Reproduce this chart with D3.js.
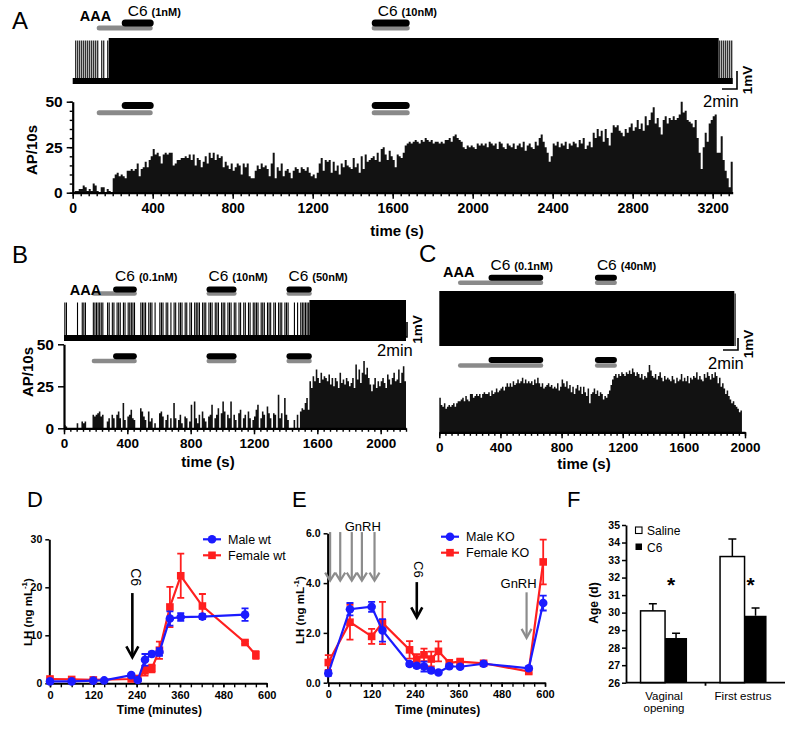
<!DOCTYPE html>
<html><head><meta charset="utf-8">
<script src="https://cdn.jsdelivr.net/npm/d3@7/dist/d3.min.js"></script>
<style>
body{margin:0;background:#fff;}
svg{display:block;}
text{font-family:"Liberation Sans",Arial,Helvetica,sans-serif;fill:#000;}
</style></head><body>
<svg id="fig" width="787" height="730" xmlns="http://www.w3.org/2000/svg"></svg>
<script>
// ---------------- DATA ----------------
// AP per 10 s bins (panel A, B, C)
const histA = [
0,1,1,2,2,4,3,1,2,1, 5,4,1,0,3,3,0,2,1,0, 8,10,11,9,10,9,8,12,12,13, 12,13,16,9,13,14,17,14,18,20,
24,21,22,20,16,21,22,21,22,22, 15,16,18,18,19,19,20,19,21,18, 21,15,19,18,14,17,20,16,22,19, 22,18,21,19,20,14,17,15,13,16,
12,14,16,15,10,16,14,16,9,8, 8,12,15,13,16,14,15,13,9,16, 22,8,14,12,16,9,12,13,11,8, 12,14,13,11,14,13,12,14,11,9,
10,8,11,16,19,12,18,17,18,11, 17,12,15,10,16,14,18,15,14,13, 19,14,16,11,20,13,21,17,18,19, 20,18,22,17,24,25,21,18,23,20,
18,14,21,20,19,22,26,27,28,27, 28,29,28,27,29,28,30,29,28,29, 27,28,28,27,28,27,29,29,30,28, 31,32,30,29,28,25,24,26,25,26,
25,24,27,26,27,26,27,25,28,27, 26,27,24,28,27,25,24,27,26,25, 27,24,26,27,25,28,23,26,27,25, 24,28,26,30,32,28,25,22,17,20,
27,26,28,25,27,26,28,24,27,26, 28,27,25,29,27,30,24,26,28,25, 33,30,35,31,34,28,35,30,26,33, 37,36,37,34,33,31,35,33,36,38,
34,36,40,35,38,34,42,37,40,44, 47,38,41,36,32,40,42,38,41,40, 42,40,41,43,50,44,45,40,39,38, 36,40,30,22,13,25,33,28,38,40,
42,43,22,22,31,18,12,8,3,17];
const histB = [
2,1,0,0,0,0,0,0,3,0, 0,4,3,4,0,0,0,0,8,7, 8,9,10,7,8,0,0,4,6,0, 8,6,0,8,10,6,0,15,5,0,
7,8,11,6,5,0,0,0,12,10, 7,5,0,10,4,6,0,3,0,0, 9,10,7,0,5,8,0,6,0,15, 6,0,5,8,3,0,7,6,0,4,
14,0,16,6,3,8,0,10,6,4, 0,7,8,14,0,6,8,12,0,9, 16,10,0,8,6,16,0,8,5,0, 9,11,0,6,8,0,10,6,0,5,
7,11,14,0,6,10,8,0,13,9, 6,0,9,8,0,20,6,9,0,18, 8,5,0,0,0,5,0,8,0,10, 12,11,15,18,11,28,24,31,28,35,
30,27,33,29,31,30,28,32,26,30, 25,30,28,24,33,27,29,26,30,28, 25,27,30,24,38,29,35,27,33,40, 32,36,30,26,22,26,30,24,28,25,
28,30,27,24,32,29,26,30,33,28, 29,35,27,33,37,28];
const histC = [
19,15,14,16,13,14,15,14,15,16, 14,16,17,17,18,19,17,20,18,17, 21,21,19,20,21,20,21,19,21,22, 21,21,22,20,23,21,22,24,22,23,
24,25,23,25,27,25,27,25,28,26, 27,29,27,28,30,27,29,27,28,27, 28,26,29,27,30,27,25,27,24,25, 26,27,25,26,24,25,24,27,23,25,
29,27,25,28,24,26,22,25,21,24, 26,23,25,21,25,22,20,24,16,21, 22,24,21,23,20,22,21,18,20,19, 21,23,26,29,31,32,30,32,31,33,
32,31,33,32,34,32,35,33,31,33, 32,30,32,29,31,30,33,37,34,31, 30,32,29,31,33,30,28,31,29,30, 29,28,31,29,27,30,28,29,32,28,
30,28,31,27,30,29,31,30,33,29, 31,29,28,32,30,33,31,29,32,30, 33,31,27,30,25,27,24,21,23,20, 18,16,17,15,14,13,11,12];
const binSec = 10;
// periods (s) where the recorded trace fires continuously
const denseA = [180, 3230], denseB = [1550, 2160], denseC = [0, 1930];
// drug applications (s)
const drugsA = [{drug:"AAA",start:120,end:400},{drug:"C6",start:245,end:405,dose:"(1nM)"},
                {drug:"AAA",start:1495,end:1685},{drug:"C6",start:1495,end:1685,dose:"(10nM)"}];
const drugsB = [{drug:"AAA",start:175,end:460},{drug:"C6",start:310,end:460,dose:"(0.1nM)"},
                {drug:"AAA",start:900,end:1090},{drug:"C6",start:900,end:1090,dose:"(10nM)"},
                {drug:"AAA",start:1405,end:1565},{drug:"C6",start:1405,end:1565,dose:"(50nM)"}];
const drugsC = [{drug:"AAA",start:122,end:680},{drug:"C6",start:322,end:680,dose:"(0.1nM)"},
                {drug:"AAA",start:1018,end:1162},{drug:"C6",start:1018,end:1162,dose:"(40nM)"}];
const ticksA = [0,400,800,1200,1600,2000,2400,2800,3200];
const ticksBC = [0,400,800,1200,1600,2000];
const ticksAP = [0,25,50];

// LH time courses (minutes, ng/mL, sem)
const tMaleWt = [0,60,120,150,225,243,263,282,303,332,362,422,540];
const lhMaleWt = [0.4,0.4,0.55,0.6,1.7,0.7,4.9,6.1,6.5,13.5,13.8,13.9,14.3];
const seMaleWt = [0.2,0.2,0.2,0.2,0.3,0.2,1.2,0.5,0.8,1.5,0.8,0.5,1.3];
const tFemWt = [0,60,120,225,243,263,282,303,332,362,422,540,570];
const lhFemWt = [0.9,0.8,0.7,0.9,1.0,2.6,3.1,6.9,15.9,22.4,16.1,8.5,5.9];
const seFemWt = [0.3,0.2,0.2,0.2,0.2,1.0,0.8,1.8,4.2,4.6,2.5,0.3,0.8];
const tKO = [0,60,120,150,225,245,265,285,305,335,365,430,555,595];
const lhMaleKO = [0.38,2.95,3.05,2.1,0.75,0.68,0.65,0.49,0.41,0.66,0.64,0.76,0.58,3.2];
const seMaleKO = [0.1,0.25,0.2,0.45,0.08,0.08,0.2,0.08,0.06,0.08,0.06,0.06,0.06,0.3];
const lhFemKO = [0.81,2.43,1.86,2.4,1.32,0.95,1.12,0.95,1.26,0.8,0.85,0.78,0.45,4.85];
const seFemKO = [0.3,0.7,0.3,0.85,0.35,0.2,0.25,0.3,0.4,0.1,0.08,0.08,0.08,0.9];
const ticksTime = [0,120,240,360,480,600];
const ticksLHwt = [0,10,20,30];
const ticksLHko = [0,2,4,6];
const c6InjD = 228, c6InjE = 245;
const gnrhE = [5,33,65,93,128], gnrhLateE = 549;

// Puberty onset (days)
const pubCats = ["Vaginal opening","First estrus"];
const ageSaline = [30.1,33.2], seSaline = [0.4,1.0];
const ageC6 = [28.55,29.82], seC6 = [0.27,0.45];
const ticksAge = [26,27,28,29,30,31,32,33,34,35];

// ---------------- DRAWING ----------------
const FONT = "Liberation Sans, Arial, Helvetica, sans-serif";
const svg = d3.select("#fig");
svg.append("rect").attr("width",787).attr("height",730).attr("fill","#fff");

function txt(g, x, y, s, size, opts={}) {
  const t = g.append("text").attr("x",x).attr("y",y).text(s)
    .attr("font-size",size).attr("font-family",FONT)
    .attr("font-weight",opts.bold?"bold":"normal")
    .attr("text-anchor",opts.anchor||"start");
  if (opts.rot!==undefined) t.attr("transform",`rotate(${opts.rot},${x},${y})`).attr("dominant-baseline","central");
  if (opts.fill) t.attr("fill",opts.fill);
  return t;
}
function styleAxis(sel, fs, bold=true, dw=2.2) {
  sel.attr("font-family",FONT).attr("font-size",fs);
  sel.select(".domain").attr("stroke-width",dw).attr("stroke","#000");
  sel.selectAll(".tick line").attr("stroke-width",1.5).attr("stroke","#000");
  sel.selectAll(".tick text").attr("font-weight",bold?"bold":"normal").attr("fill","#000");
}

function ephys(o) {
  const g = svg.append("g");
  const x = o.x, y = o.y;
  // ---- raw trace ----
  const tr = g.append("g");
  if (o.baseline) tr.append("rect").attr("x",x(0)).attr("y",o.trBot-6).attr("width",x(o.trEnd)-x(0)).attr("height",6).attr("fill","#000");
  const denseT = [];
  o.hist.forEach((c,i)=>{
    const t = i*binSec;
    if (t >= o.trEnd) return;
    if (t >= o.dense[0] && t < o.dense[1]) denseT.push(t);
    else if (c>0) {
      tr.append("rect").attr("x",x(t+binSec/2)-0.5).attr("y",o.trTop+2.5).attr("width",1.1).attr("height",o.trBot-o.trTop-2.5).attr("fill","#000");
    }
  });
  if (denseT.length) {
    const t0 = d3.min(denseT), t1 = d3.max(denseT)+binSec;
    tr.append("rect").attr("x",x(t0)).attr("y",o.trTop).attr("width",x(t1)-x(t0)).attr("height",o.trBot-o.trTop).attr("fill","#000");
  }
  // ---- drug bars ----
  function bars(yAAA, yC6, thA, thC, withText) {
    o.drugs.filter(d=>d.drug==="AAA").forEach(d=>{
      g.append("rect").attr("x",x(d.start)).attr("y",yAAA-thA/2).attr("width",x(d.end)-x(d.start)).attr("height",thA).attr("rx",thA/2).attr("fill","#8a8a8a");
    });
    o.drugs.filter(d=>d.drug==="C6").forEach(d=>{
      g.append("rect").attr("x",x(d.start)).attr("y",yC6-thC/2).attr("width",x(d.end)-x(d.start)).attr("height",thC).attr("rx",thC/2).attr("fill","#000");
    });
    if (withText) {
      const a = o.drugs.find(d=>d.drug==="AAA");
      txt(g, x(a.start)-o.aaaOff, o.aaaBase, "AAA", 14.5, {bold:true});
      o.drugs.filter(d=>d.drug==="C6").forEach(d=>{
        const t = txt(g, x(d.start)+o.c6Off, o.c6Base, "C6", 15.5);
        t.append("tspan").attr("font-size",11).attr("font-weight","bold").attr("dx",4).text(d.dose);
      });
    }
  }
  bars(o.trA, o.trC, o.thA, o.thC, true);
  // ---- histogram (step area, zero bins leave gaps) ----
  const pts = [];
  o.hist.forEach((c,i)=>pts.push({t:i*binSec, c}));
  pts.push({t:o.hist.length*binSec, c:0});
  const area = d3.area().x(d=>x(d.t)).y0(y(0)).y1(d=>y(d.c)).curve(d3.curveStepAfter);
  g.append("path").attr("d", area(pts)).attr("fill","#121212");
  bars(o.hA, o.hC, o.thA, o.thC, false);
  // ---- axes ----
  const y0 = y(0);
  const maxT = x.domain()[1];
  g.append("g").attr("transform",`translate(0,${y0})`)
    .call(d3.axisBottom(x).tickValues(d3.range(0,maxT+1,40)).tickSize(3.5).tickFormat(""))
    .call(s=>{s.select(".domain").remove(); s.selectAll(".tick line").attr("stroke-width",1.4);});
  g.append("g").attr("transform",`translate(0,${y0})`)
    .call(d3.axisBottom(x).tickValues(o.ticks).tickSize(6).tickSizeOuter(0).tickPadding(4).tickFormat(d3.format("d")))
    .call(s=>styleAxis(s, o.tickFs));
  txt(g, o.xlabX, o.xlabY, "time (s)", 15, {bold:true, anchor:"middle"});
  if (o.yAxis) {
    if (o.yMinor) g.append("g").attr("transform",`translate(${x(0)},0)`)
      .call(d3.axisLeft(y).tickValues(d3.range(0,51,5)).tickSize(3).tickFormat(""))
      .call(s=>{s.select(".domain").remove(); s.selectAll(".tick line").attr("stroke-width",1.4);});
    g.append("g").attr("transform",`translate(${x(0)},0)`)
      .call(d3.axisLeft(y).tickValues(ticksAP).tickSize(6).tickSizeOuter(0).tickPadding(4))
      .call(s=>styleAxis(s, 15.5));
    txt(g, o.ylabX, o.ylabY, "AP/10s", 15, {bold:true, anchor:"middle", rot:-90});
  }
  // ---- scale bar ----
  const sb = o.sb;
  g.append("path").attr("d",`M${sb.x-sb.w},${sb.y+sb.h} H${sb.x} V${sb.y}`).attr("fill","none").attr("stroke","#000").attr("stroke-width",1.6);
  txt(g, sb.x+10, sb.y+sb.h/2, "1mV", 13.5, {bold:true, anchor:"middle", rot:-90});
  txt(g, sb.tx, sb.ty, "2min", 16.5, {anchor:"start"});
  txt(g, o.letter[0], o.letter[1], o.letter[2], 24);
}

// Panel A
ephys({hist:histA, x:d3.scaleLinear([0,3300],[72.7,732.7]), y:d3.scaleLinear([0,50],[192.7,101.7]),
  dense:denseA, trEnd:3300, trTop:38, trBot:84, baseline:true, drugs:drugsA,
  trA:28, trC:23, hA:112.7, hC:105.5, thA:5, thC:7, aaaOff:17, aaaBase:20.5, c6Off:6, c6Base:15.5,
  ticks:ticksA, tickFs:14, xlabX:397, xlabY:236, yAxis:true, yMinor:true, ylabX:31, ylabY:150,
  sb:{x:737,y:71,w:15,h:18, tx:703, ty:107}, letter:[12,29,"A"]});
// Panel B
ephys({hist:histB, x:d3.scaleLinear([0,2160],[64,406]), y:d3.scaleLinear([0,50],[428.3,344.3]),
  dense:denseB, trEnd:2160, trTop:300, trBot:341, baseline:true, drugs:drugsB,
  trA:293.5, trC:289.5, hA:361, hC:356.2, thA:4.5, thC:6, aaaOff:22, aaaBase:295, c6Off:2, c6Base:281,
  ticks:ticksBC, tickFs:13.5, xlabX:208, xlabY:467, yAxis:true, yMinor:false, ylabX:27, ylabY:372,
  sb:{x:407,y:322,w:17,h:15, tx:377, ty:356}, letter:[12,263,"B"]});
// Panel C
ephys({hist:histC, x:d3.scaleLinear([0,2000],[439.3,745]), y:d3.scaleLinear([0,50],[432.3,341.3]),
  dense:denseC, trEnd:1935, trTop:291, trBot:346, baseline:false, drugs:drugsC,
  trA:282.7, trC:277.7, hA:365.5, hC:360, thA:4.5, thC:6, aaaOff:15, aaaBase:277, c6Off:2, c6Base:270,
  ticks:ticksBC, tickFs:13.5, xlabX:584, xlabY:469, yAxis:false,
  sb:{x:738,y:338,w:15,h:12, tx:708, ty:369}, letter:[419,262,"C"]});

// ---------- LH panels ----------
const BLUE = "#1b1bff", RED = "#ff1f1f";
function lhPanel(o) {
  const g = svg.append("g");
  const x = o.x, y = o.y;
  g.append("g").attr("transform",`translate(0,${y(0)})`)
    .call(d3.axisBottom(x).tickValues(d3.range(0,601,30)).tickSize(4).tickFormat(""))
    .call(s=>{s.select(".domain").remove(); s.selectAll(".tick line").attr("stroke-width",1.4);});
  g.append("g").attr("transform",`translate(0,${y(0)})`)
    .call(d3.axisBottom(x).tickValues(ticksTime).tickSize(4).tickSizeOuter(0).tickPadding(4))
    .call(s=>styleAxis(s, 11, true, 2));
  g.append("g").attr("transform",`translate(${x(0)-0.7},0)`)
    .call(d3.axisLeft(y).tickValues(o.yTicks).tickSize(4).tickSizeOuter(0).tickPadding(3))
    .call(s=>styleAxis(s, 10.5, true, 2));
  txt(g, (x(0)+x(600))/2+1, 714, "Time (minutes)", 12, {bold:true, anchor:"middle"});
  const yl = txt(g, o.ylabX, o.ylabY, "LH (ng mL", 11.5, {bold:true, anchor:"middle", rot:-90});
  yl.append("tspan").attr("font-size",8).attr("dy",-4).text("-1");
  yl.append("tspan").attr("dy",4).text(")");
  o.series.forEach(s=>{
    const pts = s.t.map((t,i)=>({t, v:s.v[i], e:s.e[i]}));
    g.append("path").attr("d", d3.line().x(d=>x(d.t)).y(d=>y(d.v))(pts)).attr("fill","none").attr("stroke",s.color).attr("stroke-width",2.2);
    pts.forEach(d=>{
      g.append("path").attr("d",`M${x(d.t)},${y(d.v-d.e)}V${y(d.v+d.e)}M${x(d.t)-3.5},${y(d.v+d.e)}h7M${x(d.t)-3.5},${y(d.v-d.e)}h7`)
        .attr("stroke",s.color).attr("stroke-width",1.8).attr("fill","none");
      if (s.shape==="circle") g.append("circle").attr("cx",x(d.t)).attr("cy",y(d.v)).attr("r",4.3).attr("fill",s.color);
      else g.append("rect").attr("x",x(d.t)-3.8).attr("y",y(d.v)-3.8).attr("width",7.6).attr("height",7.6).attr("fill",s.color);
    });
  });
  o.series.slice().reverse().forEach((s,k)=>{
    const ly = o.leg[1] + k*16;
    g.append("line").attr("x1",o.leg[0]).attr("x2",o.leg[0]+18).attr("y1",ly).attr("y2",ly).attr("stroke",s.color).attr("stroke-width",2.2);
    if (s.shape==="circle") g.append("circle").attr("cx",o.leg[0]+9).attr("cy",ly).attr("r",4.3).attr("fill",s.color);
    else g.append("rect").attr("x",o.leg[0]+5.2).attr("y",ly-3.8).attr("width",7.6).attr("height",7.6).attr("fill",s.color);
    txt(g, o.leg[0]+25, ly+4.5, s.name, 12.5);
  });
  txt(g, o.letter[0], o.letter[1], o.letter[2], 22);
  return g;
}
function arrow(g, x, y1, y2, color, w, hw, hh) {
  g.append("path").attr("d",`M${x},${y1}V${y2-1}`).attr("stroke",color).attr("stroke-width",w).attr("fill","none");
  g.append("path").attr("d",`M${x-hw},${y2-hh}L${x},${y2}L${x+hw},${y2-hh}`).attr("stroke",color).attr("stroke-width",w).attr("fill","none").attr("stroke-linejoin","miter");
}

// Panel D
{
  const x = d3.scaleLinear([0,600],[50,266.7]), y = d3.scaleLinear([0,30],[683.3,539.3]);
  const g = lhPanel({x, y, yTicks:ticksLHwt, ylabX:27.5, ylabY:612, leg:[203,539.3], letter:[27,507,"D"],
    series:[{name:"Female wt",t:tFemWt,v:lhFemWt,e:seFemWt,color:RED,shape:"square"},
            {name:"Male wt",t:tMaleWt,v:lhMaleWt,e:seMaleWt,color:BLUE,shape:"circle"}]});
  arrow(g, x(c6InjD), y(18.8), y(5.4), "#000", 2.6, 6, 11);
  txt(g, x(c6InjD)+4, y(22.1), "C6", 14, {anchor:"middle", rot:90});
}
// Panel E
{
  const x = d3.scaleLinear([0,600],[328.3,545]), y = d3.scaleLinear([0,6],[682.7,533.3]);
  const g = lhPanel({x, y, yTicks:ticksLHko, ylabX:300, ylabY:610, leg:[441,536.7], letter:[292,507,"E"],
    series:[{name:"Female KO",t:tKO,v:lhFemKO,e:seFemKO,color:RED,shape:"square"},
            {name:"Male KO",t:tKO,v:lhMaleKO,e:seMaleKO,color:BLUE,shape:"circle"}]});
  gnrhE.forEach(t=>arrow(g, x(t), y(6.05), y(4.1), "#8c8c8c", 2.2, 5, 8));
  txt(g, x(65)+11, 531, "GnRH", 13, {anchor:"middle"});
  arrow(g, x(c6InjE), y(4.04), y(2.62), "#000", 2.6, 5.5, 10);
  txt(g, x(c6InjE)+2, y(4.55), "C6", 13, {anchor:"middle", rot:90});
  arrow(g, x(gnrhLateE), y(3.63), y(1.8), "#8c8c8c", 2.2, 5, 9);
  txt(g, x(gnrhLateE)-8, 588, "GnRH", 13, {anchor:"middle"});
}
// Panel F
{
  const g = svg.append("g");
  const y = d3.scaleLinear([26,35],[682.7,525]);
  const x = d3.scaleBand(pubCats,[626,785]);
  pubCats.forEach((c,i)=>{
    const cx = x(c) + x.bandwidth()/2 - 0.7;
    g.append("rect").attr("x",cx-24.5).attr("y",y(ageSaline[i])).attr("width",24.5).attr("height",y(26)-y(ageSaline[i])).attr("fill","#fff").attr("stroke","#000").attr("stroke-width",1.5);
    g.append("path").attr("d",`M${cx-12.2},${y(ageSaline[i])}V${y(ageSaline[i]+seSaline[i])}M${cx-16.2},${y(ageSaline[i]+seSaline[i])}h8`).attr("stroke","#000").attr("stroke-width",1.5);
    g.append("rect").attr("x",cx).attr("y",y(ageC6[i])).attr("width",22).attr("height",y(26)-y(ageC6[i])).attr("fill","#000");
    g.append("path").attr("d",`M${cx+11},${y(ageC6[i])}V${y(ageC6[i]+seC6[i])}M${cx+7},${y(ageC6[i]+seC6[i])}h8`).attr("stroke","#000").attr("stroke-width",1.5);
    txt(g, cx+6, y(31.15), "*", 21, {bold:true, anchor:"middle"});
  });
  g.append("g").attr("transform","translate(626,0)")
    .call(d3.axisLeft(y).tickValues(ticksAge).tickSize(4).tickSizeOuter(0).tickPadding(2))
    .call(s=>styleAxis(s, 10.5, true, 1.8));
  g.append("path").attr("d",`M626,${y(26)}H785M${x(pubCats[1])},${y(26)}v3`).attr("stroke","#000").attr("stroke-width",1.8);
  txt(g, 664, 700, "Vaginal", 11.5, {anchor:"middle"});
  txt(g, 664, 711.5, "opening", 11.5, {anchor:"middle"});
  txt(g, 743, 700, "First estrus", 11.5, {anchor:"middle"});
  txt(g, 594, 603, "Age (d)", 12, {bold:true, anchor:"middle", rot:-90});
  g.append("rect").attr("x",635.5).attr("y",527).attr("width",6.5).attr("height",6.5).attr("fill","#fff").attr("stroke","#000").attr("stroke-width",1.1);
  txt(g, 647, 535, "Saline", 12);
  g.append("rect").attr("x",635.5).attr("y",543.5).attr("width",6.5).attr("height",6.5).attr("fill","#000");
  txt(g, 647, 551.5, "C6", 12);
  txt(g, 567, 507, "F", 22);
}
</script>
</body></html>
